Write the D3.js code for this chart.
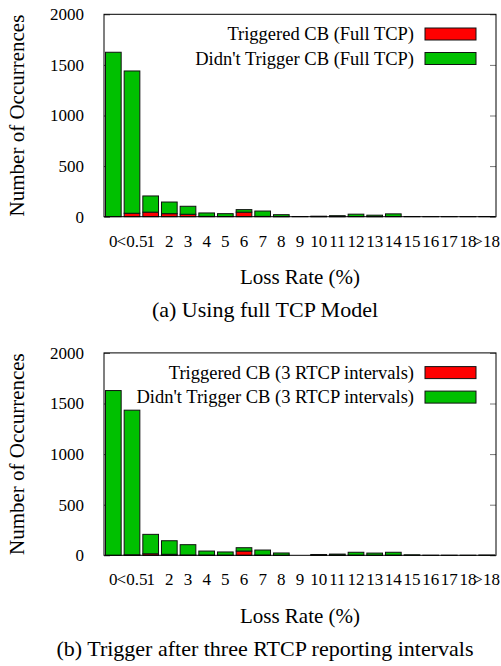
<!DOCTYPE html>
<html>
<head>
<meta charset="utf-8">
<script src="https://cdn.jsdelivr.net/npm/d3@7"></script>
<style>
  html, body { margin: 0; padding: 0; background: #fff; }
  svg { display: block; }
  svg text { font-family: 'Liberation Serif' !important; }
</style>
</head>
<body>
<div id="chart"></div>
<script>
// ---- data ----
const categories = ["0", "<0.5", "1", "2", "3", "4", "5", "6", "7", "8", "9",
  "10", "11", "12", "13", "14", "15", "16", "17", "18", ">18"];
const yTicks = [0, 500, 1000, 1500, 2000];

// Panel (a): full TCP model
const fullTriggered    = [0, 34, 45, 30, 24, 3, 2, 45, 3, 1, 0, 1, 1, 2, 1, 2, 0, 0, 0, 0, 0];
const fullNotTriggered = [1625, 1406, 160, 115, 79, 34, 28, 25, 53, 19, 2, 4, 9, 23, 14, 26, 2, 1, 1, 1, 2];

// Panel (b): three RTCP intervals
const rtcpTriggered    = [0, 5, 15, 10, 3, 2, 1, 42, 2, 1, 0, 2, 1, 1, 1, 1, 0, 0, 0, 0, 0];
const rtcpNotTriggered = [1628, 1429, 192, 134, 102, 40, 32, 33, 50, 22, 0, 6, 11, 29, 21, 29, 5, 1, 1, 1, 3];

const panels = [
  { trig: fullTriggered, notrig: fullNotTriggered,
    legend: ["Triggered CB (Full TCP)", "Didn't Trigger CB (Full TCP)"],
    caption: "(a) Using full TCP Model" },
  { trig: rtcpTriggered, notrig: rtcpNotTriggered,
    legend: ["Triggered CB (3 RTCP intervals)", "Didn't Trigger CB (3 RTCP intervals)"],
    caption: "(b) Trigger after three RTCP reporting intervals" }
];

const colors = { trig: "#ff0000", notrig: "#00c000" };
const FONT = "Liberation Serif";

// ---- layout ----
const W = 501, H = 666;
const left = 104, right = 496, plotTop = 14.3, plotBottom = 216.7;
const panelOffset = 338.6;

const svg = d3.select("#chart").append("svg").attr("width", W).attr("height", H);
svg.append("rect").attr("width", W).attr("height", H).attr("fill", "#fff");

const x = d3.scaleBand().domain(categories).range([left, right])
  .paddingInner(0.16).paddingOuter(0.08);
const y = d3.scaleLinear().domain([0, 2000]).range([plotBottom, plotTop]);

function txt(sel, size) {
  return sel.attr("font-family", FONT).attr("font-size", size).attr("fill", "#000");
}

panels.forEach((p, pi) => {
  const g = svg.append("g").attr("transform", `translate(0,${pi * panelOffset})`);

  // y axis labels + inward ticks (left)
  const yl = g.append("g").attr("transform", `translate(${left},0)`)
    .call(d3.axisLeft(y).tickValues(yTicks).tickFormat(d3.format("d"))
      .tickSizeInner(-6).tickSizeOuter(0).tickPadding(20));
  yl.attr("font-family", FONT);
  yl.select(".domain").remove();
  yl.selectAll("line").attr("stroke", "#555");
  txt(yl.selectAll("text"), 17);

  // right inward ticks
  const yr = g.append("g").attr("transform", `translate(${right},0)`)
    .call(d3.axisRight(y).tickValues(yTicks).tickSizeInner(-6).tickSizeOuter(0).tickFormat(""));
  yr.select(".domain").remove();
  yr.selectAll("line").attr("stroke", "#777");

  // stacked bars
  const rows = categories.map((c, i) => ({ cat: c, trig: p.trig[i], notrig: p.notrig[i] }));
  const series = d3.stack().keys(["trig", "notrig"])(rows);
  series.forEach(s => {
    g.append("g").selectAll("rect").data(s).join("rect")
      .attr("x", d => x(d.data.cat))
      .attr("width", x.bandwidth())
      .attr("y", d => y(d[1]))
      .attr("height", d => Math.max(0, y(d[0]) - y(d[1])))
      .attr("fill", colors[s.key])
      .attr("stroke", "#111")
      .attr("stroke-width", 1);
  });

  // frame
  g.append("rect").attr("x", left).attr("y", plotTop)
    .attr("width", right - left).attr("height", plotBottom - plotTop)
    .attr("fill", "none").attr("stroke", "#000").attr("stroke-width", 1);

  // x tick labels
  const xa = g.append("g").attr("transform", `translate(0,${plotBottom})`)
    .call(d3.axisBottom(x).tickSize(0).tickPadding(18));
  xa.attr("font-family", FONT);
  xa.select(".domain").remove();
  txt(xa.selectAll("text"), 17);

  // axis titles
  txt(g.append("text").attr("x", (left + right) / 2).attr("y", 284)
    .attr("text-anchor", "middle"), 21).text("Loss Rate (%)");
  txt(g.append("text").attr("transform", `translate(24,${(plotTop + plotBottom) / 2}) rotate(-90)`)
    .attr("text-anchor", "middle"), 21).text("Number of Occurrences");

  // legend
  const legY = [34, 58.5];
  const legKeys = ["trig", "notrig"];
  legKeys.forEach((k, li) => {
    txt(g.append("text").attr("x", 414).attr("y", legY[li] + 6)
      .attr("text-anchor", "end"), 18.5).text(p.legend[li]);
    g.append("rect").attr("x", 425).attr("y", legY[li] - 6)
      .attr("width", 51).attr("height", 12)
      .attr("fill", colors[k]).attr("stroke", "#111").attr("stroke-width", 1);
  });

  // caption
  txt(g.append("text").attr("x", 265).attr("y", 317)
    .attr("text-anchor", "middle"), 22).text(p.caption);
});
</script>
</body>
</html>
